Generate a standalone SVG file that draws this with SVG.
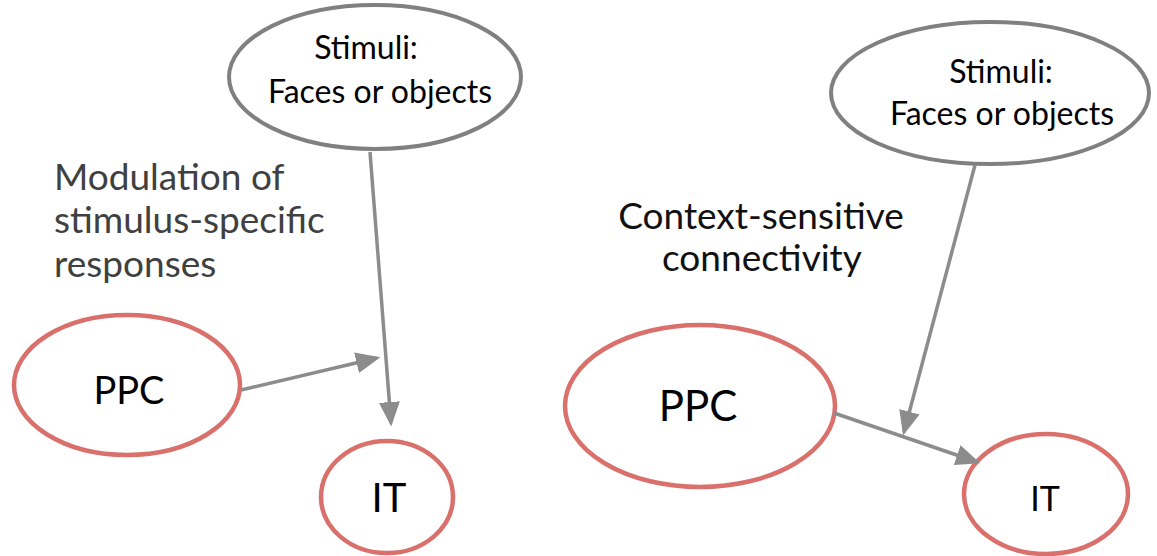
<svg xmlns="http://www.w3.org/2000/svg" width="1157" height="556" viewBox="0 0 1157 556">
<style>
.stim{fill:#fff;stroke:#808080;stroke-width:4}
.reg{fill:#fff;stroke:#d9706c;stroke-width:4.5}
.t{font-family:Lato,"Open Sans","Liberation Sans",sans-serif;fill:#000;text-anchor:middle}
.lbl{font-family:Lato,"Open Sans","Liberation Sans",sans-serif}
.conn{stroke:#8c8c8c;stroke-width:3.5;fill:none;marker-end:url(#ah)}
</style>
<defs>
<marker id="ah" markerWidth="7" markerHeight="6" refX="6" refY="3" orient="auto" markerUnits="strokeWidth">
<path d="M0,0 L7,3 L0,6 Z" fill="#8c8c8c"/>
</marker>
</defs>
<rect width="1157" height="556" fill="#fff"/>
<g id="stimuli-left">
<ellipse class="stim" cx="375" cy="77" rx="146" ry="72"/>
<text class="t" font-size="32" x="366" y="59">Stimuli:</text>
<text class="t" font-size="32" x="380" y="103">Faces or objects</text>
</g>
<g id="stimuli-right">
<ellipse class="stim" cx="990" cy="93" rx="159" ry="71"/>
<text class="t" font-size="32" x="1001" y="83">Stimuli:</text>
<text class="t" font-size="32" x="1002" y="125">Faces or objects</text>
</g>
<g id="ppc-left">
<ellipse class="reg" cx="127" cy="385" rx="113" ry="70"/>
<text class="t" font-size="38" x="129" y="404">PPC</text>
</g>
<g id="it-left">
<ellipse class="reg" cx="387" cy="497" rx="66" ry="56"/>
<text class="t" font-size="40" x="389" y="512">IT</text>
</g>
<g id="ppc-right">
<ellipse class="reg" cx="700" cy="406" rx="135" ry="81"/>
<text class="t" font-size="42" x="698" y="421">PPC</text>
</g>
<g id="it-right">
<ellipse class="reg" cx="1046" cy="494" rx="82" ry="60"/>
<text class="t" font-size="34" x="1045" y="511">IT</text>
</g>
<g id="labels">
<text class="lbl" font-size="37" fill="#404040" x="54" y="190">Modulation of</text>
<text class="lbl" font-size="37" fill="#404040" x="54" y="233">stimulus-specific</text>
<text class="lbl" font-size="37" fill="#404040" x="54" y="277">responses</text>
<text class="lbl" font-size="37" fill="#111" x="761" y="229" text-anchor="middle">Context-sensitive</text>
<text class="lbl" font-size="37" fill="#111" x="762" y="271" text-anchor="middle">connectivity</text>
</g>
<g id="connectors">
<line class="conn" x1="370" y1="152" x2="391" y2="423"/>
<line class="conn" x1="241" y1="390" x2="377" y2="358"/>
<line class="conn" x1="975" y1="165" x2="904" y2="432"/>
<line class="conn" x1="834" y1="413" x2="977" y2="462"/>
</g>
</svg>
